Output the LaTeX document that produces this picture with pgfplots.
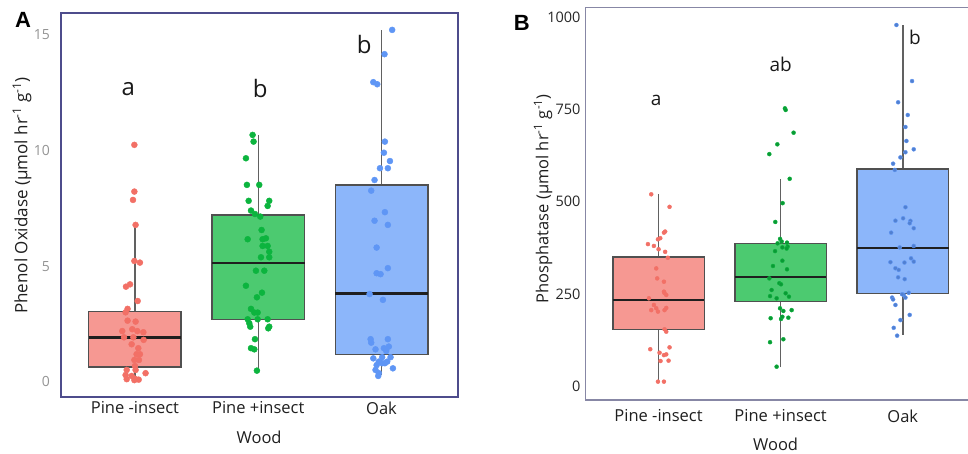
\documentclass[border=0pt]{standalone}
\usepackage{fontspec}
\setmainfont{Open Sans}
\newfontfamily\panelfont{Liberation Sans}
\usepackage{pgfplots}
\usepackage{pgfplotstable}
\pgfplotsset{compat=1.18}
\usepgfplotslibrary{statistics}

\definecolor{redpt}{RGB}{242,112,102}
\definecolor{redbox}{RGB}{246,152,146}
\definecolor{grnpt}{RGB}{12,180,62}
\definecolor{grnbox}{RGB}{76,202,112}
\definecolor{blupt}{RGB}{95,150,245}
\definecolor{blubox}{RGB}{140,182,250}
\definecolor{frameA}{RGB}{78,76,140}
\definecolor{frameB}{RGB}{135,135,165}
\definecolor{boxline}{RGB}{80,80,80}

% Panel A data (dx = horizontal jitter, y = value)
\pgfplotstableread{
dx y
-0.005 10.25
-0.005 8.23
-0.016 7.87
0.005 6.79
-0.005 5.23
0.040 5.16
-0.073 4.12
-0.040 4.22
0.022 3.50
-0.060 3.16
-0.076 3.01
-0.060 2.65
0.005 2.61
-0.103 2.20
-0.022 2.28
0.019 2.20
0.068 2.15
-0.089 1.93
-0.013 1.93
0.070 1.82
-0.027 1.63
0.027 1.46
0.013 1.20
0.040 1.20
-0.005 0.95
0.032 0.95
0.000 0.69
-0.067 0.52
0.005 0.52
-0.076 0.30
-0.027 0.26
0.086 0.38
-0.067 0.12
0.000 0.14
-0.005 0.08
0.030 0.10
}\redA
\pgfplotstableread{
dx y
-0.046 10.68
-0.038 10.39
-0.100 9.67
-0.092 8.52
0.008 8.52
-0.078 7.83
0.089 7.83
0.076 7.61
-0.059 7.41
-0.027 7.26
0.016 7.15
0.027 6.57
-0.086 6.17
0.035 6.17
0.062 6.21
0.035 5.88
0.076 5.88
0.089 5.63
0.022 5.39
0.089 5.39
-0.019 4.81
0.049 4.81
-0.100 4.16
0.030 3.86
-0.011 3.66
-0.059 3.16
-0.032 3.00
-0.005 3.00
-0.086 2.71
-0.005 2.71
0.076 2.71
-0.073 2.54
-0.065 2.39
0.089 2.39
0.081 2.32
-0.027 1.85
-0.059 1.46
-0.032 1.41
-0.011 0.49
}\grnA
\pgfplotstableread{
dx y
0.086 15.22
0.024 14.17
-0.067 12.96
-0.035 12.87
0.027 10.39
0.019 9.91
0.068 9.55
-0.013 9.24
0.051 9.24
-0.057 8.73
-0.084 8.27
0.027 7.34
-0.057 6.97
0.051 6.79
-0.040 5.81
0.051 4.92
-0.040 4.70
-0.008 4.66
-0.097 3.80
0.011 3.55
-0.089 1.85
-0.084 1.70
0.051 1.85
-0.049 1.41
0.019 1.46
0.059 1.53
0.038 1.34
-0.067 1.02
0.005 1.07
0.073 1.07
-0.022 0.88
0.046 0.88
-0.040 0.73
0.005 0.81
0.027 0.81
0.092 0.59
-0.049 0.52
-0.022 0.38
-0.027 0.26
}\bluA
% Panel B data
\pgfplotstableread{
dx y
-0.060 520
0.090 486
0.044 416
0.054 419
-0.005 398
0.014 401
-0.087 385
-0.038 380
0.000 371
0.054 364
0.076 348
-0.019 319
-0.011 292
0.044 283
0.049 252
0.063 247
0.044 256
-0.079 238
-0.038 220
-0.060 206
-0.019 211
-0.005 202
0.063 212
0.049 206
0.049 154
0.063 147.5
-0.068 100
0.090 105
0.008 90.5
0.044 84
0.063 86
0.016 68
0.082 69
-0.005 12
0.044 12
}\redB
\pgfplotstableread{
dx y
0.035 753
0.041 748.6
0.106 687
-0.027 655.5
-0.093 629
0.074 562
0.016 496
-0.044 445
-0.005 399
-0.025 387
0.008 392
0.052 389
0.057 378
-0.046 366
0.014 376
0.049 373
0.014 340
-0.063 325.6
0.052 316.7
-0.093 292
-0.011 279
0.003 276
-0.074 260.6
-0.087 244
0.041 251.6
0.068 242.4
-0.033 238
-0.005 211
0.022 203.6
0.090 206
-0.082 184
0.003 182
0.063 185.5
0.014 188
-0.087 119
0.022 127
-0.033 52.6
}\grnB
\pgfplotstableread{
dx y
-0.052 979
0.076 827
-0.038 769.5
0.041 735
0.022 702.5
0.030 664.6
0.090 642
0.022 634
-0.019 620
-0.079 603
-0.065 586
0.022 485
-0.060 448.5
0.003 455
0.063 448
0.090 428
0.057 441.5
-0.095 416
-0.025 376
0.090 380
0.068 346.5
0.090 337.5
-0.101 336
-0.060 319.5
-0.033 315
0.014 335
-0.038 295
0.016 290
-0.087 240
-0.079 235
0.008 247
0.022 240
0.049 253
-0.005 249
-0.060 220
0.057 193
-0.019 179
-0.074 158
-0.046 136.7
}\bluB

\pgfplotsset{
  mybox/.style={
    boxplot/draw direction=y,
    boxplot/box extend=0.75,
    boxplot/whisker extend=0,
    draw=boxline, fill=#1, line width=1.5pt,
    boxplot/every whisker/.style={draw=black!62, line width=1.5pt},
    boxplot/every median/.style={draw=black!88, line width=2.3pt},
  },
}

\begin{document}
\begin{tikzpicture}
% ---------------- Panel A ----------------
\begin{axis}[
  at={(61pt,56pt)}, anchor=south west,
  scale only axis, width=397pt, height=384pt,
  xmin=0.4, xmax=3.62, ymin=-0.65, ymax=15.95,
  xtick={1,2,3}, xticklabels={Pine -insect, Pine +insect, Oak},
  ytick={0,5,10,15}, yticklabels={0,5,10,15},
  major tick length=0pt,
  axis line style={draw=frameA, line width=1.6pt},
  xticklabel style={font=\fontsize{16.5}{19}\selectfont, text=black!88, anchor=center, yshift=-11pt},
  yticklabel style={font=\fontsize{14}{16}\selectfont, text=black!42, anchor=east, inner sep=0pt, xshift=-11pt},
  xlabel={Wood},
  xlabel style={font=\fontsize{16.5}{19}\selectfont, text=black!88, at={(axis description cs:0.499,-0.104)}, anchor=center},
  ylabel={Phenol Oxidase (µmol hr\textsuperscript{-1} g\textsuperscript{-1})},
  ylabel style={font=\fontsize{17}{19}\selectfont, text=black!88, at={(axis description cs:-0.098,0.525)}, anchor=center, rotate=0},
  clip=false,
]
\addplot[mybox=redbox, boxplot prepared={draw position=1, lower whisker=0.05, lower quartile=0.65, median=1.92, upper quartile=3.04, upper whisker=6.76}] coordinates {};
\addplot[mybox=grnbox, boxplot prepared={draw position=2, lower whisker=0.49, lower quartile=2.71, median=5.13, upper quartile=7.21, upper whisker=10.68}] coordinates {};
\addplot[mybox=blubox, boxplot prepared={draw position=3, lower whisker=0.3, lower quartile=1.19, median=3.83, upper quartile=8.52, upper whisker=15.2}] coordinates {};
\addplot[only marks, mark=*, mark size=3pt, color=redpt, mark options={draw=none, fill=redpt}] table[x expr=1+\thisrow{dx}, y=y] {\redA};
\addplot[only marks, mark=*, mark size=3pt, color=grnpt, mark options={draw=none, fill=grnpt}] table[x expr=2+\thisrow{dx}, y=y] {\grnA};
\addplot[only marks, mark=*, mark size=3pt, color=blupt, mark options={draw=none, fill=blupt}] table[x expr=3+\thisrow{dx}, y=y] {\bluA};
\node[font=\fontsize{24}{26}\selectfont, text=black!90] at (axis cs:0.946,12.67) {a};
\node[font=\fontsize{24}{26}\selectfont, text=black!90] at (axis cs:2.016,12.7) {b};
\node[font=\fontsize{24}{26}\selectfont, text=black!90] at (axis cs:2.86,14.6) {b};
\end{axis}
% ---------------- Panel B ----------------
\begin{axis}[
  at={(585.3pt,53pt)}, anchor=south west,
  scale only axis, width=390.7pt, height=392.7pt,
  xmin=0.4, xmax=3.6, ymin=-37.7, ymax=1027,
  xtick={1,2,3}, xticklabels={Pine -insect, Pine +insect, Oak},
  ytick={0,250,500,750,1000}, yticklabels={0,250,500,750,1000},
  major tick length=0pt,
  axis line style={draw=frameB, line width=1.4pt},
  xticklabel style={font=\fontsize{16.5}{19}\selectfont, text=black!88, anchor=center, yshift=-16pt},
  yticklabel style={font=\fontsize{14.5}{16}\selectfont, text=black!85, anchor=east, inner sep=0pt, xshift=-4.6pt},
  xlabel={Wood},
  xlabel style={font=\fontsize{16.5}{19}\selectfont, text=black!88, at={(axis description cs:0.487,-0.112)}, anchor=center},
  ylabel={Phosphatase (µmol hr\textsuperscript{-1} g\textsuperscript{-1})},
  ylabel style={font=\fontsize{16.5}{18}\selectfont, text=black!88, at={(axis description cs:-0.108,0.512)}, anchor=center, rotate=0},
  clip=false,
]
\addplot[mybox=redbox, boxplot prepared={draw position=1, lower whisker=10, lower quartile=154, median=232.6, upper quartile=350, upper whisker=520}] coordinates {};
\addplot[mybox=grnbox, boxplot prepared={draw position=2, lower whisker=51, lower quartile=229, median=296, upper quartile=387, upper whisker=561.5}] coordinates {};
\addplot[mybox=blubox, boxplot prepared={draw position=3, lower whisker=138.6, lower quartile=251.6, median=375, upper quartile=588, upper whisker=979}] coordinates {};
\addplot[only marks, mark=*, mark size=2pt, color=redpt, mark options={draw=none, fill=redpt}] table[x expr=1+\thisrow{dx}, y=y] {\redB};
\addplot[only marks, mark=*, mark size=2pt, color=grnpt, mark options={draw=none, fill=grnpt!85!black}] table[x expr=2+\thisrow{dx}, y=y] {\grnB};
\addplot[only marks, mark=*, mark size=2pt, color=blupt, mark options={draw=none, fill=blupt!85!black}] table[x expr=3+\thisrow{dx}, y=y] {\bluB};
\node[font=\fontsize{19}{21}\selectfont, text=black!90] at (axis cs:0.98,775.8) {a};
\node[font=\fontsize{19}{21}\selectfont, text=black!90] at (axis cs:2.0,872) {ab};
\node[font=\fontsize{19}{21}\selectfont, text=black!90] at (axis cs:3.1,946.6) {b};
\end{axis}
% panel letters
\node[font=\panelfont\bfseries\fontsize{22}{24}\selectfont] at (23pt,433.5pt) {A};
\node[font=\panelfont\bfseries\fontsize{22}{24}\selectfont] at (521.7pt,429.7pt) {B};
\pgfresetboundingbox
\useasboundingbox (0pt,0pt) rectangle (968pt,453pt);
\end{tikzpicture}
\end{document}
